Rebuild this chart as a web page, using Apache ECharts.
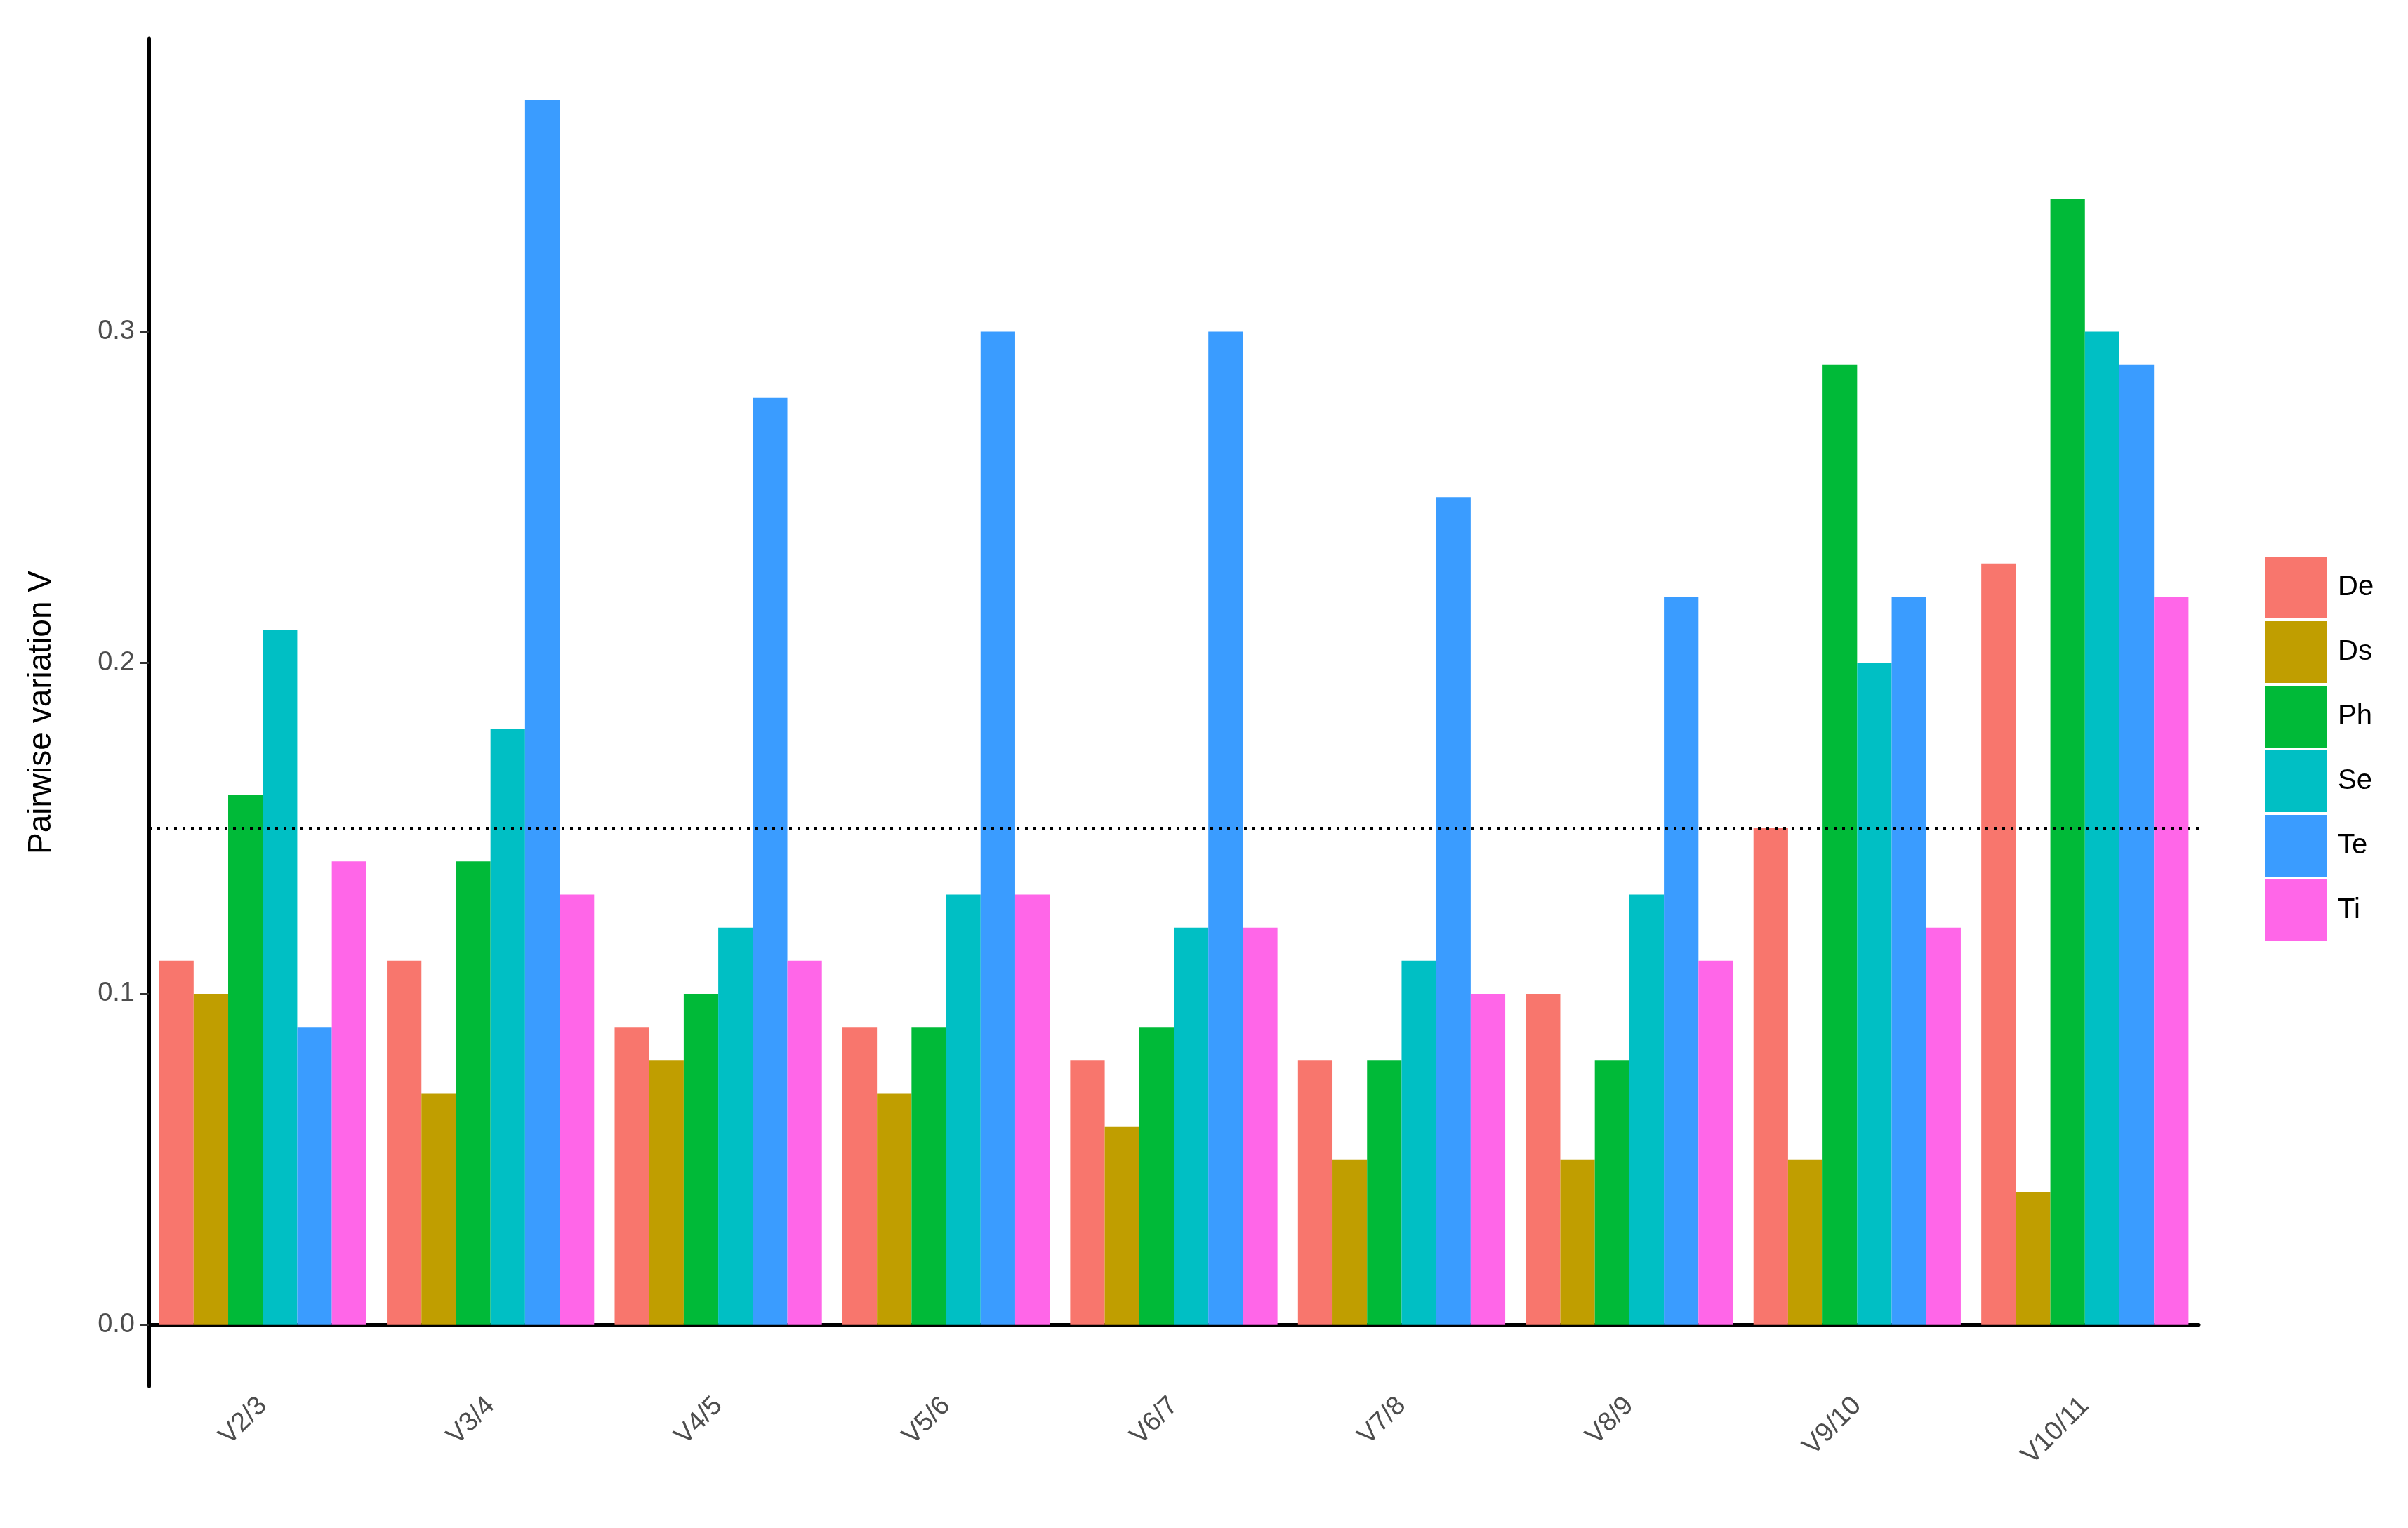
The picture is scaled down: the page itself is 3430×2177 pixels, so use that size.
<!DOCTYPE html>
<html>
<head>
<meta charset="utf-8">
<script src="https://cdn.jsdelivr.net/npm/echarts@6/dist/echarts.min.js"></script>
<style>html,body{margin:0;padding:0;background:#fff}#chart{width:3430px;height:2177px}</style>
</head>
<body>
<div id="chart"></div>
<script>
// 数据
var categories = ['V2/3', 'V3/4', 'V4/5', 'V5/6', 'V6/7', 'V7/8', 'V8/9', 'V9/10', 'V10/11'];
var seriesNames = ['De', 'Ds', 'Ph', 'Se', 'Te', 'Ti'];
var colors = ['#F8766D', '#C09E00', '#00BA38', '#00BFC4', '#3A9CFF', '#FF66E8'];
var De = [0.11, 0.11, 0.09, 0.09, 0.08, 0.08, 0.10, 0.15, 0.23];
var Ds = [0.10, 0.07, 0.08, 0.07, 0.06, 0.05, 0.05, 0.05, 0.04];
var Ph = [0.16, 0.14, 0.10, 0.09, 0.09, 0.08, 0.08, 0.29, 0.34];
var Se = [0.21, 0.18, 0.12, 0.13, 0.12, 0.11, 0.13, 0.20, 0.30];
var Te = [0.09, 0.37, 0.28, 0.30, 0.30, 0.25, 0.22, 0.22, 0.29];
var Ti = [0.14, 0.13, 0.11, 0.13, 0.12, 0.10, 0.11, 0.12, 0.22];
var yTicks = [0, 0.1, 0.2, 0.3];
var threshold = 0.15;

var values = [De, Ds, Ph, Se, Te, Ti];
var chart = echarts.init(document.getElementById('chart'));
var series = [];
for (var i = 0; i < seriesNames.length; i++) {
    series.push({
        name: seriesNames[i],
        type: 'bar',
        data: values[i],
        barGap: '0%',
        barCategoryGap: '9%',
        itemStyle: { color: colors[i] }
    });
}
series[0].markLine = {
    silent: true,
    symbol: 'none',
    label: { show: false },
    lineStyle: { color: '#000', type: [4, 8], width: 5 },
    data: [{ yAxis: threshold }]
};

var option = {
    animation: false,
    textStyle: { fontFamily: 'Liberation Sans, Arial, sans-serif' },
    grid: { left: 212, right: 298, top: 55, bottom: 202 },
    legend: {
        orient: 'vertical',
        left: 3222,
        top: 788,
        itemWidth: 88,
        itemHeight: 88,
        itemGap: 4,
        icon: 'rect',
        textStyle: { fontSize: 40, color: '#000', padding: [0, 0, 0, 10] },
        data: seriesNames
    },
    xAxis: {
        type: 'category',
        data: categories,
        axisLine: { lineStyle: { color: '#000', width: 5 } },
        axisTick: { lineStyle: { color: '#333', width: 3 }, length: 12, alignWithLabel: true },
        axisLabel: { rotate: 45, fontSize: 38, color: '#4d4d4d', margin: 22 }
    },
    yAxis: {
        type: 'value',
        min: -0.0185,
        max: 0.3885,
        name: 'Pairwise variation V',
        nameLocation: 'middle',
        nameGap: 130,
        nameTextStyle: { fontSize: 46, color: '#000' },
        splitLine: { show: false },
        axisLine: { show: true, lineStyle: { color: '#000', width: 5 } },
        axisTick: { show: true, customValues: yTicks, length: 12, lineStyle: { color: '#333', width: 3 } },
        axisLabel: {
            customValues: yTicks,
            fontSize: 38,
            color: '#4d4d4d',
            margin: 20,
            formatter: function (v) { return v.toFixed(1); }
        }
    },
    series: series
};
chart.setOption(option);
</script>
</body>
</html>
